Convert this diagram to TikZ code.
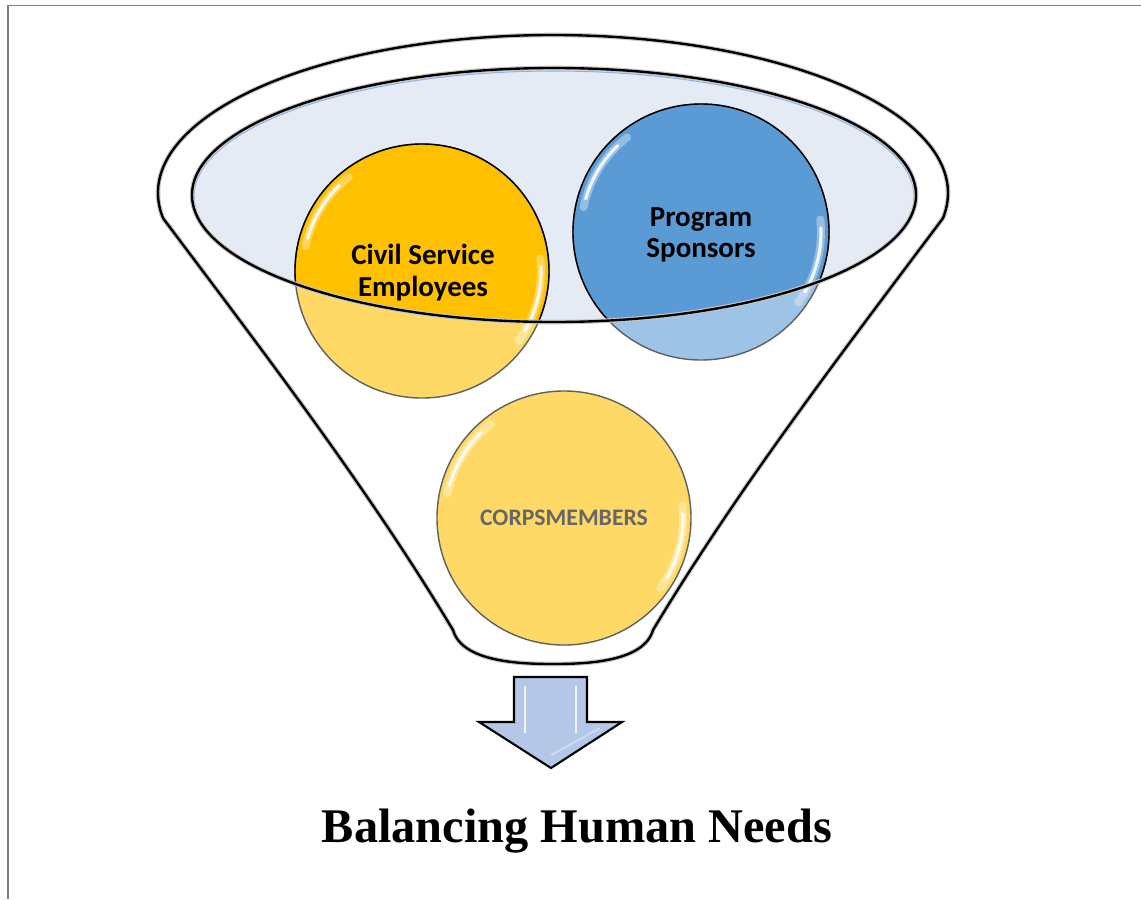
\documentclass[tikz,border=0pt]{standalone}
\usepackage{fontspec}
\setmainfont{Liberation Serif}
\newfontfamily\calib{Carlito}
\definecolor{gold}{HTML}{FFC000}
\definecolor{goldlt}{HTML}{FFD966}
\definecolor{blu}{HTML}{5B9BD5}
\definecolor{blult}{HTML}{9DC3E6}
\definecolor{rimfill}{HTML}{E4EBF5}
\definecolor{rimblue}{HTML}{8DB4E2}
\definecolor{arrowfill}{HTML}{B4C7E7}
\definecolor{framegray}{HTML}{808080}
\definecolor{txtgray}{HTML}{666666}
\tikzset{
  halo/.style={gray!45, line width=2.6pt},
  inkline/.style={black, line width=1.35pt},
  circline/.style={line width=0.8pt},
  gloss/.style={white, line cap=round},
  cstext/.style={font=\calib\bfseries\fontsize{16.5}{20}\selectfont, anchor=base, inner sep=0pt},
  cmtext/.style={font=\calib\bfseries\fontsize{13.5}{16}\selectfont, anchor=base, inner sep=0pt, text=txtgray},
  titletext/.style={font=\bfseries\fontsize{27.5}{32}\selectfont, anchor=base, inner sep=0pt}
}
\newcommand{\glossarcs}[2]{%
  \draw[gloss, opacity=0.35, line width=4.5pt] (#1) ++(192:#2-8) arc[start angle=192, end angle=232, radius=#2-8];
  \draw[gloss, opacity=0.85, line width=1.8pt] (#1) ++(196:#2-8) arc[start angle=196, end angle=226, radius=#2-8];
  \draw[gloss, opacity=0.35, line width=4.5pt] (#1) ++(-6:#2-8) arc[start angle=-6, end angle=36, radius=#2-8];
  \draw[gloss, opacity=0.85, line width=1.8pt] (#1) ++(-2:#2-8) arc[start angle=-2, end angle=30, radius=#2-8];
}
\begin{document}
\begin{tikzpicture}[x=0.02cm, y=-0.02cm]
\useasboundingbox (0,0) rectangle (1141,899);
% page frame
\draw[framegray, line width=1.1pt] (8,899) -- (8,5.5) -- (1141,5.5);

% funnel outer body
\def\funnelpath{(553,193) ++(170.8:395 and 158)
  arc[start angle=170.8, end angle=369.2, x radius=395, y radius=158]
  .. controls (838,358) and (737,490) .. (653,630)
  .. controls (644,662) and (586,664) .. (553,664)
  .. controls (520,664) and (462,662) .. (453,630)
  .. controls (369,490) and (268,358) .. cycle}
\fill[white] \funnelpath;
\draw[halo] \funnelpath;
\draw[inkline] \funnelpath;

% rim fill
\coordinate (rimc) at (554,195);
\fill[rimfill] (rimc) ellipse [x radius=362, y radius=127];

% Civil Service circle
\coordinate (csc) at (422,271);
\fill[goldlt] (csc) circle[radius=127];
\begin{scope}
  \clip (rimc) ellipse [x radius=362, y radius=127];
  \fill[gold] (csc) circle[radius=127];
\end{scope}
\draw[circline, gray!75!black] (csc) circle[radius=127];
\begin{scope}
  \clip (rimc) ellipse [x radius=362, y radius=127];
  \draw[circline, black] (csc) circle[radius=127];
\end{scope}
\glossarcs{csc}{127}

% Program Sponsors circle
\coordinate (psc) at (701,232);
\fill[blult] (psc) circle[radius=128];
\begin{scope}
  \clip (rimc) ellipse [x radius=362, y radius=127];
  \fill[blu] (psc) circle[radius=128];
\end{scope}
\draw[circline, gray!75!black] (psc) circle[radius=128];
\begin{scope}
  \clip (rimc) ellipse [x radius=362, y radius=127];
  \draw[circline, black] (psc) circle[radius=128];
\end{scope}
\glossarcs{psc}{128}

% rim outline
\draw[rimblue, line width=0.6pt] (554,196.5) ellipse [x radius=360, y radius=125.5];
\draw[halo] (rimc) ellipse [x radius=362, y radius=127];
\draw[inkline] (rimc) ellipse [x radius=362, y radius=127];

% texts of upper circles
\node[cstext] (cs1) at (423,264) {Civil Service};
\node[cstext] (cs2) at (423,296) {Employees};
\node[cstext] (ps1) at (701,226) {Program};
\node[cstext] (ps2) at (701,257) {Sponsors};

% Corpsmembers circle
\coordinate (cmc) at (564,518);
\fill[goldlt] (cmc) circle[radius=127];
\draw[circline, gray!75!black] (cmc) circle[radius=127];
\glossarcs{cmc}{127}
\node[cmtext] (cm) at (564,525) {CORPSMEMBERS};

% output arrow
\draw[black, line width=1.2pt, fill=arrowfill, line join=miter]
  (514,677) -- (587,677) -- (587,722) -- (622,722) -- (551,768) -- (479,722) -- (514,722) -- cycle;
\draw[white, opacity=0.8, line width=1.6pt] (525,686) -- (525,733);
\draw[white, opacity=0.8, line width=1.6pt] (576,686) -- (576,733);
\draw[white, opacity=0.35, line width=1.2pt] (551,755) -- (600,728);

% title
\node[titletext] (title) at (577,842) {Balancing Human Needs};
\end{tikzpicture}
\end{document}
